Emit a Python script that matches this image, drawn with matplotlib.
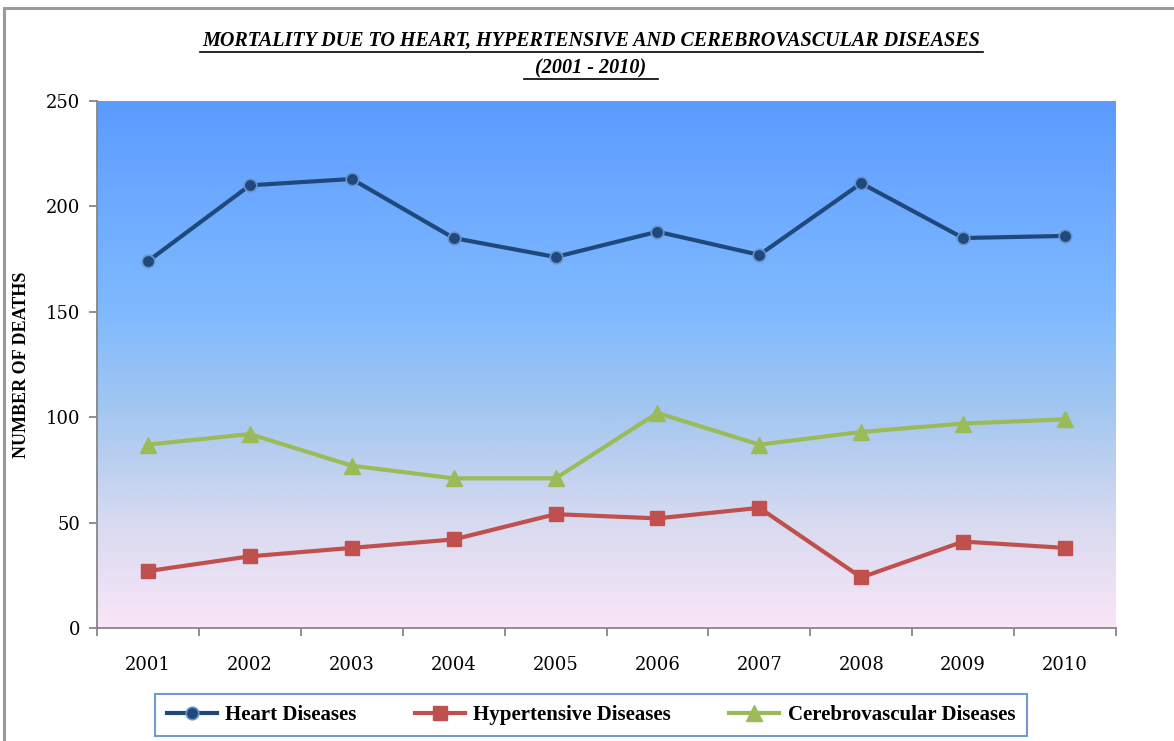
import numpy as np
import matplotlib
matplotlib.use('Agg')
import matplotlib.pyplot as plt
from matplotlib.colors import LinearSegmentedColormap
from matplotlib.patches import Rectangle

# Du lieu doc tu bieu do
years = ['2001', '2002', '2003', '2004', '2005', '2006', '2007', '2008', '2009', '2010']
heart = [174, 210, 213, 185, 176, 188, 177, 211, 185, 186]
hypertensive = [27, 34, 38, 42, 54, 52, 57, 24, 41, 38]
cerebro = [87, 92, 77, 71, 71, 102, 87, 93, 97, 99]

W, H = 1174, 741
fig = plt.figure(figsize=(W / 100, H / 100), dpi=100)
fig.patch.set_facecolor('white')

# Khung ngoai cua chart (Excel)
fig.patches.append(Rectangle((4 / W, -0.1), 1.2, (H - 8) / H + 0.1, transform=fig.transFigure,
                             fill=False, edgecolor='#9a9a9a', linewidth=2.2, zorder=0))

ax = fig.add_axes([97 / W, 1 - 628 / H, (1116 - 97) / W, (628 - 101) / H])

# Nen gradient cho vung ve
cmap = LinearSegmentedColormap.from_list('bg', [
    (0.0, '#f9e6f7'), (0.2, '#d8daf0'), (0.4, '#a6c8f0'),
    (0.6, '#7fbaff'), (0.8, '#6eabff'), (1.0, '#5b9bff')])
grad = np.linspace(0, 1, 256).reshape(-1, 1)
ax.imshow(grad, aspect='auto', cmap=cmap, origin='lower',
          extent=[0, 1, 0, 1], transform=ax.transAxes, zorder=0)

x = np.arange(len(years))
ax.plot(x, heart, color='#1f497d', lw=3, marker='o', ms=9,
        mfc='#1f497d', mec='#6a94c8', mew=1.2, label='Heart Diseases', zorder=3)
ax.plot(x, hypertensive, color='#c0504d', lw=3, marker='s', ms=10,
        mfc='#c0504d', mec='#c0504d', label='Hypertensive Diseases', zorder=3)
ax.plot(x, cerebro, color='#9bbb59', lw=3, marker='^', ms=11,
        mfc='#9bbb59', mec='#9bbb59', label='Cerebrovascular Diseases', zorder=3)

ax.set_xlim(-0.5, len(years) - 0.5)
ax.set_ylim(0, 250)
ax.set_yticks([0, 50, 100, 150, 200, 250])
ax.set_xticks(x)
ax.set_xticklabels(years)
ax.set_xticks(np.arange(-0.5, len(years)), minor=True)
ax.tick_params(axis='x', which='major', length=0, pad=20)
ax.tick_params(axis='x', which='minor', length=6, color='#868686', width=1.3)
ax.tick_params(axis='y', length=6, color='#868686', width=1.3, pad=6)
for lbl in ax.get_xticklabels() + ax.get_yticklabels():
    lbl.set_fontfamily('DejaVu Serif')
    lbl.set_fontsize(13)

for s in ['top', 'right']:
    ax.spines[s].set_visible(False)
for s in ['left', 'bottom']:
    ax.spines[s].set_color('#868686')
    ax.spines[s].set_linewidth(1.3)

ax.set_ylabel('NUMBER OF DEATHS', fontfamily='Liberation Serif', fontweight='bold',
              fontsize=13)
ax.yaxis.set_label_coords((30 - 97) / 1019, 0.5)

fig.text(591 / W, 1 - 41 / H, 'MORTALITY DUE TO HEART, HYPERTENSIVE AND CEREBROVASCULAR DISEASES',
         ha='center', va='center', fontfamily='Liberation Serif', fontweight='bold',
         fontstyle='italic', fontsize=14.5)
fig.text(591 / W, 1 - 68 / H, '(2001 - 2010)', ha='center', va='center',
         fontfamily='Liberation Serif', fontweight='bold', fontstyle='italic', fontsize=14.5)
# Gach chan tieu de
fig.lines.append(plt.Line2D([200 / W, 983 / W], [1 - 52 / H, 1 - 52 / H],
                            transform=fig.transFigure, color='black', lw=1.2))
fig.lines.append(plt.Line2D([524 / W, 658 / W], [1 - 79 / H, 1 - 79 / H],
                            transform=fig.transFigure, color='black', lw=1.2))

leg = fig.legend(loc='center', bbox_to_anchor=(591 / W, 1 - 715 / H), ncol=3,
                 frameon=True, fancybox=False, edgecolor='#4f81bd', handlelength=2.4,
                 handletextpad=0.4, columnspacing=2.8, borderpad=0.55, borderaxespad=0,
                 prop={'family': 'Liberation Serif', 'weight': 'bold', 'size': 15})
leg.get_frame().set_linewidth(1.5)
leg._legend_box.align = 'center'

fig.savefig('out.png', dpi=100)
